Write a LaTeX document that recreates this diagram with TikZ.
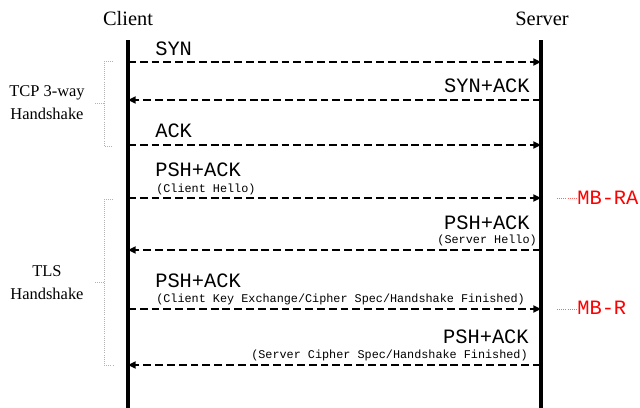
\documentclass[tikz,border=0pt]{standalone}
\usepackage{fontspec}
\setmainfont{Liberation Serif}
\setmonofont{Liberation Mono}
\usetikzlibrary{arrows.meta}

\begin{document}
\begin{tikzpicture}[x=0.025cm, y=-0.025cm, >={Triangle[length=5.5pt,width=5pt]},
	life/.style={line width=2.4pt},
	msg/.style={->, line width=1.4pt, dash pattern=on 5.6pt off 2.8pt},
	big/.style={font=\ttfamily\fontsize{14.5}{16}\selectfont, inner sep=0pt},
	small/.style={font=\ttfamily\fontsize{8.4}{10}\selectfont, inner sep=0pt},
	host/.style={font=\fontsize{14.5}{16}\selectfont, inner sep=0pt},
	phase/.style={font=\fontsize{11.7}{16.4}\selectfont, align=center, inner sep=0pt},
	bracket/.style={gray!60, densely dotted, line width=0.5pt},
	mb/.style={font=\ttfamily\fontsize{14.5}{16}\selectfont, text=red, inner sep=0pt},
	mbline/.style={red!60, densely dotted, line width=0.5pt}]

	\useasboundingbox (0,0) rectangle (640,408);

	% hosts
	\node[host, anchor=base] (client) at (128,25) {Client};
	\node[host, anchor=base] (server) at (542,25) {Server};

	\coordinate (ctop) at (128,40);
	\coordinate (cbot) at (128,408);
	\coordinate (stop) at (541,40);
	\coordinate (sbot) at (541,408);
	\draw[life] (ctop) -- (cbot);
	\draw[life] (stop) -- (sbot);

	% message end points
	\coordinate (c1) at (128,62);  \coordinate (s1) at (541,62);
	\coordinate (c2) at (128,100); \coordinate (s2) at (541,100);
	\coordinate (c3) at (128,145); \coordinate (s3) at (541,145);
	\coordinate (c4) at (128,198); \coordinate (s4) at (541,198);
	\coordinate (c5) at (128,250); \coordinate (s5) at (541,250);
	\coordinate (c6) at (128,309); \coordinate (s6) at (541,309);
	\coordinate (c7) at (128,365); \coordinate (s7) at (541,365);

	\draw[msg] (c1) -- (s1);
	\draw[msg] (s2) -- (c2);
	\draw[msg] (c3) -- (s3);
	\draw[msg] (c4) -- (s4);
	\draw[msg] (s5) -- (c5);
	\draw[msg] (c6) -- (s6);
	\draw[msg] (s7) -- (c7);

	% labels
	\node[big, anchor=base west] (syn) at (155,55) {SYN};
	\node[big, anchor=base east] (synack) at (530,92) {SYN+ACK};
	\node[big, anchor=base west] (ack) at (155,137) {ACK};
	\node[big, anchor=base west] (psh1) at (155,176) {PSH+ACK};
	\node[small, anchor=base west] (chello) at (156,192) {(Client Hello)};
	\node[big, anchor=base east] (psh2) at (530,229) {PSH+ACK};
	\node[small, anchor=base east] (shello) at (537,243) {(Server Hello)};
	\node[big, anchor=base west] (psh3) at (155,287) {PSH+ACK};
	\node[small, anchor=base west] (ckey) at (156,302) {(Client Key Exchange/Cipher Spec/Handshake Finished)};
	\node[big, anchor=base east] (psh4) at (529,343) {PSH+ACK};
	\node[small, anchor=base east] (sfin) at (528,358) {(Server Cipher Spec/Handshake Finished)};

	% phases
	\node[phase] (tcp) at (47,103) {TCP 3-way\\Handshake};
	\coordinate (tcpa) at (113,61);  \coordinate (tcpb) at (113,146);
	\coordinate (tcpm) at (95,103);
	\draw[bracket] (tcpa) -- (104,61) -- (104,146) -- (tcpb);
	\draw[bracket] (tcpm) -- (104,103);

	\node[phase] (tls) at (47,283) {TLS\\Handshake};
	\coordinate (tlsa) at (113,199); \coordinate (tlsb) at (113,365);
	\coordinate (tlsm) at (95,282);
	\draw[bracket] (tlsa) -- (104,199) -- (104,365) -- (tlsb);
	\draw[bracket] (tlsm) -- (104,282);

	% middleboxes
	\node[mb, anchor=base west] (mbra) at (577,204) {MB-RA};
	\node[mb, anchor=base west] (mbr) at (577,314) {MB-R};
	\coordinate (mbra0) at (557,198);
	\coordinate (mbr0) at (557,309);
	\draw[mbline] (mbra0) -- (mbra.west |- mbra0);
	\draw[mbline] (mbr0) -- (mbr.west |- mbr0);
\end{tikzpicture}
\end{document}
